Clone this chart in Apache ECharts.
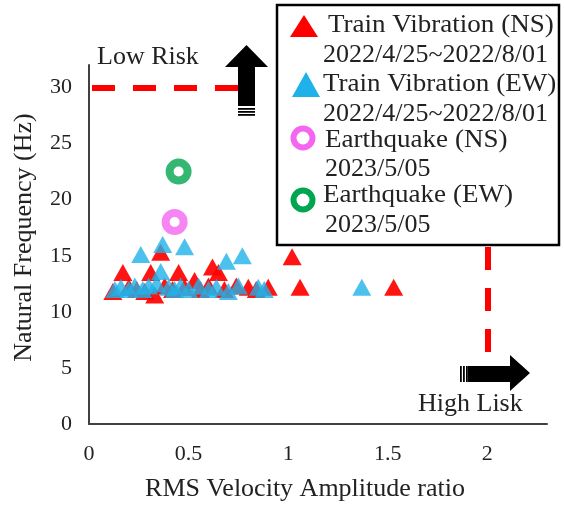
<!DOCTYPE html>
<html>
<head>
<meta charset="utf-8">
<script src="https://cdn.jsdelivr.net/npm/echarts@6/dist/echarts.min.js"></script>
<style>html,body{margin:0;padding:0;background:#fff}#c{width:564px;height:507px}</style>
</head>
<body>
<div id="c"></div>
<script>
// ---- data ----
var trainNS = [[0.12,11.8],[0.17,13.5],[0.2,12.2],[0.24,12.0],[0.28,11.8],[0.31,13.5],[0.33,11.5],[0.36,15.3],[0.38,12.3],[0.42,12.0],[0.45,13.5],[0.48,12.2],[0.53,12.8],[0.56,12.0],[0.6,12.3],[0.62,14.0],[0.65,13.5],[0.68,12.0],[0.74,12.3],[0.8,12.2],[0.84,12.0],[0.9,12.2],[1.02,14.9],[1.06,12.2],[1.53,12.2]];
var trainEW = [[0.13,12.0],[0.16,12.2],[0.2,12.0],[0.23,12.3],[0.26,15.1],[0.27,12.0],[0.3,12.3],[0.34,12.5],[0.36,13.6],[0.37,16.0],[0.4,12.2],[0.43,12.0],[0.46,12.3],[0.48,15.8],[0.5,12.0],[0.55,12.3],[0.6,12.0],[0.64,12.2],[0.69,14.5],[0.7,11.8],[0.75,12.3],[0.77,15.0],[0.85,12.2],[0.88,12.0],[1.37,12.2]];
var quakeNS = [[0.43,18.0]];
var quakeEW = [[0.45,22.5]];
var lowRiskLine = [[0.015,30],[0.76,30]];
var highRiskLine = [[2,30.4],[2,6.4]];
var legendNames = ['Train Vibration (NS)','Train Vibration (EW)','Earthquake (NS)','Earthquake (EW)'];
var legendDates = ['2022/4/25~2022/8/01','2022/4/25~2022/8/01','2023/5/05','2023/5/05'];
var xTitle = 'RMS Velocity Amplitude ratio';
var yTitle = 'Natural Frequency (Hz)';

var FONT = '"Liberation Serif","DejaVu Serif",serif';
var chart = echarts.init(document.getElementById('c'));

function txt(t, x, y, size, sx){
  return {type:'text', z:100, x:x, y:y, scaleX:sx||1,
    style:{text:t, x:0, y:0, fill:'#222', font: size+'px '+FONT, align:'left', verticalAlign:'middle'}};
}

var graphics = [];
// legend box
graphics.push({type:'rect', z:90, shape:{x:277,y:5,width:282,height:240}, style:{fill:'#fff', stroke:'#000', lineWidth:2.5}});
graphics.push({type:'polygon', z:100, shape:{points:[[290,37],[304,15],[318,37]]}, style:{fill:'#ff0000'}});
graphics.push({type:'polygon', z:100, shape:{points:[[292,97],[306,72],[320,97]]}, style:{fill:'#1fb2e8'}});
graphics.push({type:'circle', z:100, shape:{cx:303,cy:138,r:9.5}, style:{fill:'#fff', stroke:'#f466f0', lineWidth:6}});
graphics.push({type:'circle', z:100, shape:{cx:303,cy:200,r:9.5}, style:{fill:'#fff', stroke:'#00a550', lineWidth:6}});
var nameX = [328,323,325,323], nameY = [25,84,140,195], dateX = [323,323,325,325], dateY=[55,114,169,225];
for (var i=0;i<4;i++){
  graphics.push(txt(legendNames[i], nameX[i], nameY[i], 26, 1.04));
  graphics.push(txt(legendDates[i], dateX[i], dateY[i], 26));
}
// annotations
graphics.push(txt('Low Risk', 97, 57, 26));
graphics.push(txt('High Lisk', 418, 404, 26));
// up arrow
graphics.push({type:'polygon', z:80, shape:{points:[[225,67],[246.5,45],[268,67],[255,67],[255,106],[238,106],[238,67]]}, style:{fill:'#000'}});
[108,111,114].forEach(function(y){ graphics.push({type:'rect', z:80, shape:{x:238,y:y,width:17,height:1.8}, style:{fill:'#000'}}); });
// right arrow
graphics.push({type:'polygon', z:80, shape:{points:[[468,366],[510,366],[510,355],[530,373],[510,391],[510,382],[468,382]]}, style:{fill:'#000'}});
[460,463,466].forEach(function(x){ graphics.push({type:'rect', z:80, shape:{x:x,y:366,width:1.8,height:16}, style:{fill:'#000'}}); });

var axisCommon = {
  axisLine:{show:true, onZero:false, lineStyle:{color:'#404040', width:2}},
  axisTick:{show:false},
  splitLine:{show:false}
};

chart.setOption({
  animation:false,
  backgroundColor:'#fff',
  grid:{left:89, right:17, top:65, bottom:82},
  xAxis: Object.assign({
    type:'value', min:0, max:2.3, interval:0.5,
    name:xTitle, nameLocation:'middle', nameGap:52,
    nameTextStyle:{fontFamily:FONT, fontSize:26, color:'#222', padding:[0,26,0,0]},
    axisLabel:{fontFamily:FONT, fontSize:22, color:'#222', margin:19,
      formatter:function(v){ return Math.abs(v*2-Math.round(v*2))<1e-9 ? String(v) : ''; }}
  }, axisCommon),
  yAxis: Object.assign({
    type:'value', min:0, max:32, interval:5,
    name:yTitle, nameLocation:'middle', nameGap:52,
    nameTextStyle:{fontFamily:FONT, fontSize:26, color:'#222', padding:[0,0,0,14]},
    axisLabel:{fontFamily:FONT, fontSize:22, color:'#222', margin:17,
      formatter:function(v){ return v%5===0 ? String(v) : ''; }}
  }, axisCommon),
  series:[
    {type:'scatter', name:legendNames[0], data:trainNS, symbol:'triangle', symbolSize:[19,17],
      itemStyle:{color:'#ff0000', opacity:0.92}, z:2,
      markLine:{silent:true, symbol:'none', label:{show:false},
        lineStyle:{color:'#ff0000', width:6, type:[23,18]},
        data:[[{coord:lowRiskLine[0]},{coord:lowRiskLine[1]}],[{coord:highRiskLine[0]},{coord:highRiskLine[1]}]]}},
    {type:'scatter', name:legendNames[1], data:trainEW, symbol:'triangle', symbolSize:[19,17],
      itemStyle:{color:'#1fb2e8', opacity:0.8}, z:3},
    {type:'scatter', name:legendNames[2], data:quakeNS, symbol:'circle', symbolSize:18,
      itemStyle:{color:'#fff', borderColor:'#f466f0', borderWidth:8}, z:4},
    {type:'scatter', name:legendNames[3], data:quakeEW, symbol:'circle', symbolSize:18,
      itemStyle:{color:'#fff', borderColor:'#00a550', borderWidth:8}, z:4}
  ],
  graphic: graphics
});
</script>
</body>
</html>
